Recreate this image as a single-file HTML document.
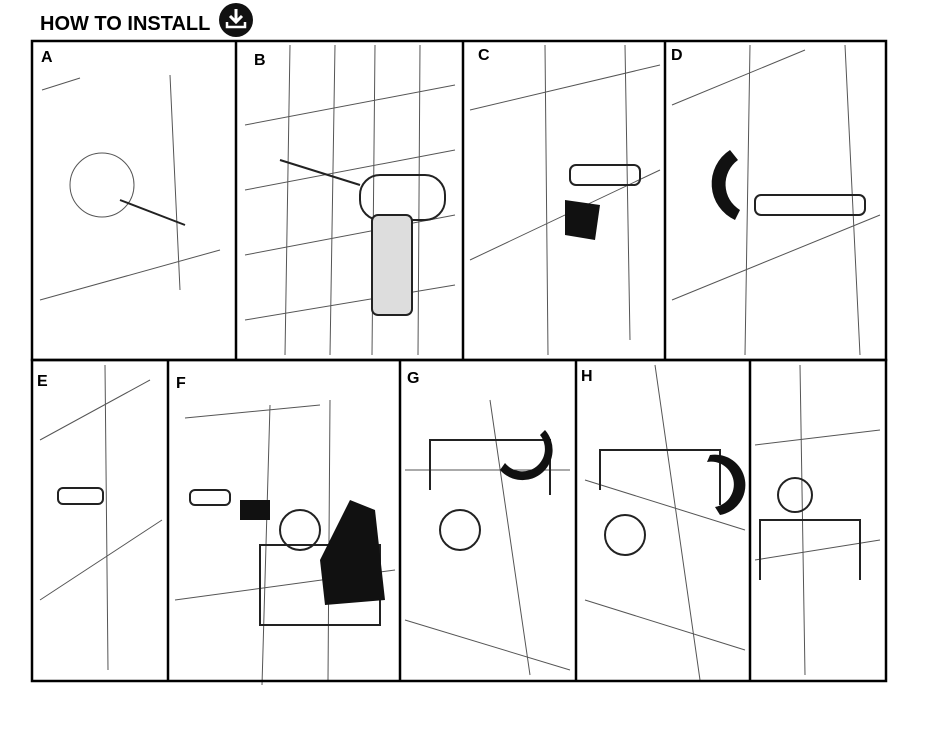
<!DOCTYPE html>
<html><head><meta charset="utf-8"><style>
body{margin:0;background:#fff;width:935px;height:738px;overflow:hidden}
svg{display:block}
text{font-family:"Liberation Sans",sans-serif;font-weight:bold}
</style></head><body>
<svg width="935" height="738" viewBox="0 0 935 738">
<text x="40" y="30" font-size="20">HOW TO INSTALL</text>
<circle cx="236" cy="20" r="17" fill="#111"/>
<path d="M236 9v12M230 16l6 6 6-6" stroke="#fff" stroke-width="3" fill="none"/>
<path d="M227 22v5h18v-5" stroke="#fff" stroke-width="2.5" fill="none"/>
<g stroke="#555" stroke-width="1" fill="none">
<!-- A -->
<path d="M40 300L220 250M170 75L180 290M42 90L80 78"/>
<circle cx="102" cy="185" r="32"/>
<!-- B -->
<path d="M245 125L455 85M245 190L455 150M245 255L455 215M245 320L455 285M290 45L285 355M335 45L330 355M375 45L372 355M420 45L418 355"/>
<!-- C -->
<path d="M470 110L660 65M470 260L660 170M545 45L548 355M625 45L630 340"/>
<!-- D -->
<path d="M672 105L805 50M672 300L880 215M750 45L745 355M845 45L860 355"/>
<!-- E -->
<path d="M40 440L150 380M40 600L162 520M105 365L108 670"/>
<!-- F -->
<path d="M185 418L320 405M175 600L395 570M270 405L262 685M330 400L328 680"/>
<!-- G -->
<path d="M405 470L570 470M405 620L570 670M490 400L530 675"/>
<!-- H -->
<path d="M585 480L745 530M585 600L745 650M655 365L700 680"/>
<!-- last -->
<path d="M755 445L880 430M755 560L880 540M800 365L805 675"/>
</g>
<g stroke="#222" stroke-width="2" fill="none">
<path d="M120 200L185 225M280 160L360 185"/>
<rect x="360" y="175" width="85" height="45" rx="20"/>
<rect x="372" y="215" width="40" height="100" rx="6" fill="#ddd"/>
<rect x="570" y="165" width="70" height="20" rx="6"/>
<rect x="755" y="195" width="110" height="20" rx="6"/>
<rect x="58" y="488" width="45" height="16" rx="5"/>
<rect x="190" y="490" width="40" height="15" rx="5"/>
<path d="M260 545h120v80h-120z"/>
<path d="M430 490V440h120v55M600 490V450h120v55M760 580V520h100v60"/>
<circle cx="300" cy="530" r="20"/><circle cx="460" cy="530" r="20"/><circle cx="625" cy="535" r="20"/><circle cx="795" cy="495" r="17"/>
</g>
<g fill="#111">
<path d="M565 200l35 5-5 35-30-5z"/>
<path d="M730 150a40 40 0 0 0 5 70l5-10a30 30 0 0 1-2-50z"/>
<path d="M320 560l30-60 25 10 10 90-60 5z"/>
<path d="M240 500h30v20h-30z"/>
<path d="M500 470a30 30 0 0 0 45-40l-5 5a22 22 0 0 1-35 28z"/>
<path d="M710 455a30 30 0 0 1 10 60l-5-8a22 22 0 0 0-8-45z"/>
</g>
<g fill="none" stroke="#000" stroke-width="2.5">
<rect x="32" y="41" width="854" height="319"/>
<rect x="32" y="360" width="854" height="321"/>
<path d="M236 41V360M463 41V360M665 41V360M168 360V681M400 360V681M576 360V681M750 360V681"/>
</g>
<g font-size="16">
<text x="41" y="62">A</text><text x="254" y="65">B</text><text x="478" y="60">C</text><text x="671" y="60">D</text>
<text x="37" y="386">E</text><text x="176" y="388">F</text><text x="407" y="383">G</text><text x="581" y="381">H</text>
</g>
</svg>
</body></html>
